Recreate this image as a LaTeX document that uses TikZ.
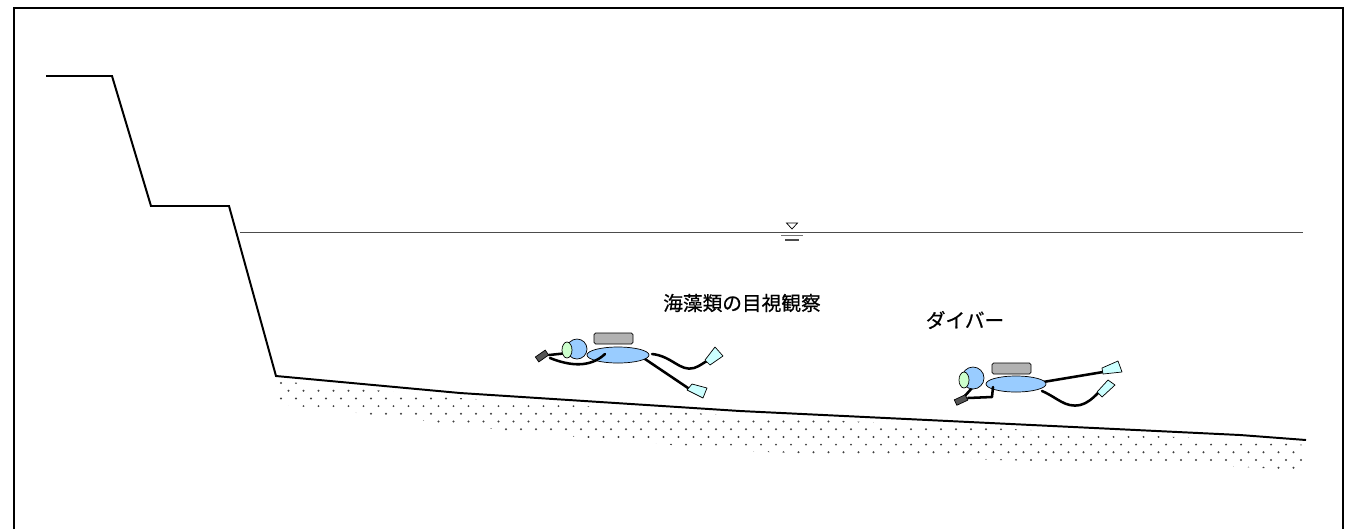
\documentclass[tikz,border=0pt]{standalone}
\usepackage{fontspec}
\newfontfamily\jpfont{Noto Sans CJK JP}[FakeBold=0.6]
\usetikzlibrary{calc}
\definecolor{SuitBlue}{HTML}{99CCFF}
\definecolor{MaskGreen}{HTML}{CCFFCC}
\definecolor{FinCyan}{HTML}{CCFFFF}
\definecolor{TankGray}{HTML}{B2B2B2}
\definecolor{SlateGray}{HTML}{555555}

\begin{document}
\begin{tikzpicture}[
    x=0.025cm, y=-0.025cm,
    frame/.style={line width=1.3pt, black},
    ground/.style={line width=1.4pt, black, line join=miter},
    water/.style={line width=0.5pt, black!70},
    grain/.style={fill=black!75},
    tank/.style={draw=black, fill=TankGray, line width=0.5pt, rounded corners=1.2pt},
    suit/.style={draw=black, fill=SuitBlue, line width=0.5pt},
    mask/.style={draw=black, fill=MaskGreen, line width=0.5pt},
    fin/.style={draw=black, fill=FinCyan, line width=0.5pt, line join=round},
    slate/.style={draw=black, fill=SlateGray, line width=0.5pt},
    limb/.style={line width=1.8pt, black, line cap=round, line join=round},
    label/.style={font=\jpfont\fontsize{14}{16}\selectfont, inner sep=0pt}
  ]
  \useasboundingbox (0,0) rectangle (1353,529);

  % outer frame, open at the bottom
  \draw[frame] (14,529) -- (14,8) -- (1343,8) -- (1343,529);

  % seabed profile
  \coordinate (bank) at (46,76);
  \coordinate (edge1) at (112,76);
  \coordinate (step1) at (151,206);
  \coordinate (edge2) at (229,206);
  \coordinate (toe) at (276,376);
  \coordinate (bed1) at (460,393);
  \coordinate (bed2) at (740,411);
  \coordinate (bed3) at (1240,435);
  \coordinate (bedend) at (1306,440);

  % stippled sand under the bed
  \begin{scope}
    \clip (278,381) -- (460,398) -- (740,416) -- (1240,440) -- (1306,445)
          -- (1306,470) -- (1240,467) -- (1000,460) -- (740,451)
          -- (510,431) -- (280,404) -- cycle;
    \foreach \j in {0,...,12}{
      \foreach \i in {0,...,70}{
        \fill[grain] ({281+15*\i+7.5*mod(\j,2)},{383+7.7*\j}) circle (1.1);
      }
    }
  \end{scope}

  \draw[ground] (bank) -- (edge1) -- (step1) -- (edge2) -- (toe)
    -- (bed1) -- (bed2) -- (bed3) -- (bedend);

  % water surface and level mark
  \coordinate (wl) at (240,232.5);
  \coordinate (wr) at (1303,232.5);
  \draw[water] (wl) -- (wr);
  \draw[line width=0.5pt] (786.5,223) -- (797.5,223) -- (792,229) -- cycle;
  \draw[line width=0.9pt, black!55] (781,235.5) -- (803,235.5);
  \draw[line width=0.9pt, black!70] (785,240) -- (799,240);

  % labels
  \node[label] (survey) at (742,303) {海藻類の目視観察};
  \node[label] (diver) at (965,320) {ダイバー};

  % diver on the left
  \draw[limb] (652,354) .. controls (672,356) and (680,372) .. (694,368)
    .. controls (700,366) and (703,363) .. (707,361);
  \draw[limb] (642,357) -- (688,388);
  \draw[fin] (705,360) -- (715,347) -- (723,356) -- (710,365) -- cycle;
  \draw[fin] (687,390) -- (692,384) -- (707,388) -- (703,398) -- cycle;
  \draw[tank] (594,333) rectangle (633,344);
  \draw[suit] (618,355) ellipse (31 and 8);
  \draw[limb] (549,355) -- (568,353);
  \draw[limb] (550,358) .. controls (570,366) and (590,368) .. (605,354);
  \draw[suit] (577,349) circle (10);
  \draw[mask] (567,350) ellipse (5 and 8);
  \draw[slate, rotate around={35:(542,356)}] (536,353) rectangle (548,359);

  % diver on the right
  \draw[limb] (1043,382) -- (1103,372);
  \draw[limb] (1042,391) .. controls (1058,398) and (1065,408) .. (1080,405)
    .. controls (1088,403) and (1093,398) .. (1098,393);
  \draw[fin] (1102,368) -- (1103,374) -- (1122,372) -- (1118,361) -- cycle;
  \draw[fin] (1097,392) -- (1102,397) -- (1115,385) -- (1108,380) -- cycle;
  \draw[tank] (992,363) rectangle (1031,374);
  \draw[limb] (972,388) -- (963,398);
  \draw[suit] (973,378) circle (11);
  \draw[mask] (964,380) ellipse (5 and 8);
  \draw[suit] (1016,384) ellipse (30 and 8);
  \draw[limb] (993,387) -- (992,397) -- (968,398);
  \draw[slate, rotate around={25:(961,400)}] (955,397) rectangle (967,403);
\end{tikzpicture}
\end{document}
